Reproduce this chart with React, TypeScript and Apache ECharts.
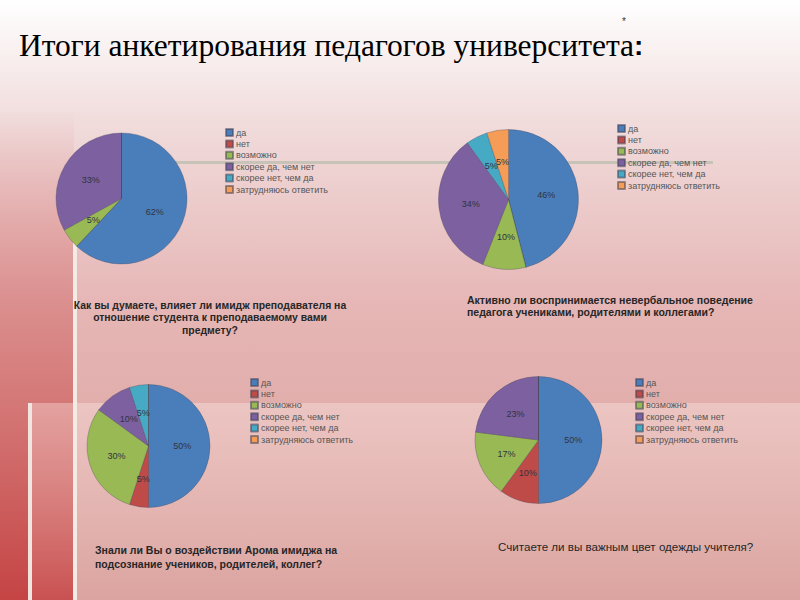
import React, { useEffect, useRef } from "react";
import * as echarts from "echarts";

const categories = [
  "да",
  "нет",
  "возможно",
  "скорее да, чем нет",
  "скорее нет, чем да",
  "затрудняюсь ответить",
];
const colors = ["#4a7ebb", "#be4b48", "#98b954", "#7d60a0", "#46aac5", "#f59d56"];

const values1 = [62, 0, 5, 33, 0, 0];
const values2 = [46, 0, 10, 34, 5, 5];
const values3 = [50, 5, 30, 10, 5, 0];
const values4 = [50, 10, 17, 23, 0, 0];

const titleText = "Итоги анкетирования педагогов университета";
const question1 = "Как вы думаете, влияет ли имидж преподавателя на\nотношение студента к преподаваемому вами\nпредмету?";
const question2 = "Активно ли воспринимается невербальное поведение\nпедагога учениками, родителями и коллегами?";
const question3 = "Знали ли Вы о воздействии Арома имиджа на\nподсознание учеников, родителей, коллег?";
const question4 = "Считаете ли вы важным цвет одежды учителя?";

function pieSeries(values: number[], center: [number, number], r: number) {
  return {
    type: "pie",
    center,
    radius: r,
    startAngle: 90,
    clockwise: true,
    avoidLabelOverlap: false,
    data: categories.map((name, i) => ({ name, value: values[i] })),
    itemStyle: { borderColor: "rgba(70,70,90,0.55)", borderWidth: 0.6 },
    label: {
      show: true,
      position: "inside",
      formatter: (p: any) => (p.value ? p.value + "%" : ""),
      fontFamily: "Liberation Sans, Arial, sans-serif",
      fontSize: 9,
      color: "#2e3440",
    },
    labelLayout: { hideOverlap: false },
    labelLine: { show: false },
    emphasis: { disabled: true },
  };
}

function legendAt(left: number, top: number) {
  return {
    orient: "vertical",
    left,
    top,
    data: categories,
    icon: "rect",
    itemWidth: 7,
    itemHeight: 7,
    itemGap: 2.4,
    padding: 0,
    selectedMode: false,
    textStyle: {
      fontFamily: "Liberation Sans, Arial, sans-serif",
      fontSize: 9,
      color: "#555555",
      lineHeight: 8,
      padding: [0, 0, 0, -2],
    },
  };
}

export default function App() {
  const ref = useRef<HTMLDivElement>(null);
  useEffect(() => {
    const chart = echarts.init(ref.current!, null, { renderer: "svg" });
    chart.setOption({
      animation: false,
      color: colors,
      backgroundColor: {
        type: "linear",
        x: 0,
        y: 0,
        x2: 0,
        y2: 1,
        colorStops: [
          { offset: 0, color: "#ffffff" },
          { offset: 0.2, color: "#f1dcdc" },
          { offset: 0.5, color: "#e6b7b6" },
          { offset: 1, color: "#d89d99" },
        ],
      },
      graphic: [
        {
          type: "rect",
          shape: { x: 0, y: 110, width: 74, height: 490 },
          style: {
            fill: {
              type: "linear",
              x: 0,
              y: 0,
              x2: 0,
              y2: 1,
              colorStops: [
                { offset: 0, color: "rgba(205,90,90,0)" },
                { offset: 0.3, color: "rgba(205,95,95,0.35)" },
                { offset: 0.6, color: "rgba(205,90,90,0.65)" },
                { offset: 1, color: "rgba(195,60,60,0.92)" },
              ],
            },
          },
          silent: true,
        },
        {
          type: "rect",
          shape: { x: 30, y: 403, width: 770, height: 197 },
          style: {
            fill: {
              type: "linear",
              x: 0,
              y: 0,
              x2: 0,
              y2: 1,
              colorStops: [
                { offset: 0, color: "rgba(255,240,235,0.35)" },
                { offset: 1, color: "rgba(255,240,235,0.08)" },
              ],
            },
          },
          silent: true,
        },
        {
          type: "rect",
          shape: { x: 73, y: 200, width: 4, height: 400 },
          style: { fill: "#f3ebe4" },
          silent: true,
        },
        {
          type: "rect",
          shape: { x: 28, y: 403, width: 4, height: 197 },
          style: { fill: "#f1e6df" },
          silent: true,
        },
        {
          type: "rect",
          shape: { x: 120, y: 161, width: 593, height: 3 },
          style: { fill: "rgba(185,190,175,0.75)" },
          silent: true,
        },
        {
          type: "text",
          x: 19,
          y: 29,
          style: {
            text: "{a|" + titleText + "}{b|:}",
            rich: {
              a: {
                fontFamily: "'Liberation Serif', 'Times New Roman', serif",
                fontSize: 31.5,
                color: "#1e1e8c",
              },
              b: {
                fontFamily: "'Liberation Sans', Arial, sans-serif",
                fontWeight: "bold",
                fontSize: 28,
                color: "#1e1e8c",
              },
            },
          },
        },
        {
          type: "text",
          x: 622,
          y: 16,
          style: { text: "*", font: "10px 'Liberation Sans', Arial, sans-serif", fill: "#333" },
        },
        {
          type: "text",
          x: 210,
          y: 299,
          style: {
            text: question1,
            font: "bold 10.4px 'Liberation Sans', Arial, sans-serif",
            fill: "#262626",
            align: "center",
            lineHeight: 12.5,
          },
        },
        {
          type: "text",
          x: 467,
          y: 294,
          style: {
            text: question2,
            font: "bold 10.5px 'Liberation Sans', Arial, sans-serif",
            fill: "#262626",
            lineHeight: 12,
          },
        },
        {
          type: "text",
          x: 95,
          y: 543,
          style: {
            text: question3,
            font: "bold 10.5px 'Liberation Sans', Arial, sans-serif",
            fill: "#262626",
            lineHeight: 14,
          },
        },
        {
          type: "text",
          x: 498,
          y: 540,
          style: {
            text: question4,
            font: "11.6px 'Liberation Sans', Arial, sans-serif",
            fill: "#262626",
          },
        },
      ],
      legend: [
        legendAt(225, 128),
        legendAt(617, 124),
        legendAt(250, 378),
        legendAt(635, 378),
      ],
      series: [
        pieSeries(values1, [121.5, 198.5], 65.5),
        pieSeries(values2, [508.5, 199.5], 70),
        pieSeries(values3, [148.5, 446], 61.5),
        pieSeries(values4, [538.5, 440], 63.5),
      ],
    });
    return () => chart.dispose();
  }, []);
  return (
    <div
      ref={ref}
      style={{ position: "fixed", left: 0, top: 0, width: 800, height: 600 }}
    />
  );
}
